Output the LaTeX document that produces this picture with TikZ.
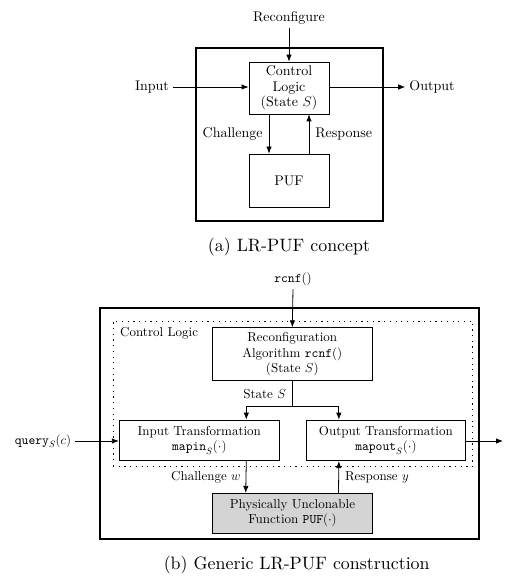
\documentclass[tikz,border=0pt]{standalone}
\usepackage{fix-cm}
\usepackage{fontspec}
% one design size for every scale, as in a scaled-up 10pt figure
\setmainfont{lmroman10-regular.otf}[ItalicFont=lmroman10-italic.otf, BoldFont=lmroman10-bold.otf]
\setmonofont{lmmono10-regular.otf}
\usetikzlibrary{arrows.meta,calc}
\begin{document}
\begin{tikzpicture}[x=1pt,y=-1pt,
  txa/.style={font=\fontsize{14}{15.5}\selectfont, align=center},
  txb/.style={font=\fontsize{13}{15.5}\selectfont, align=center},
  captext/.style={font=\fontsize{17.9}{20}\selectfont},
  blk/.style 2 args={draw, line width=0.8pt, minimum width=#1pt, minimum height=#2pt, inner sep=0pt},
  frame/.style 2 args={draw, line width=1.6pt, minimum width=#1pt, minimum height=#2pt, inner sep=0pt},
  arr/.style={line width=0.8pt, -{Latex[length=7pt,width=5.5pt]}},
  lbl/.style={inner sep=4pt}]
\useasboundingbox (0,0) rectangle (510,577);

% ---------- (a) concept ----------
\node[frame={187}{173}] (fa) at (289.5,134.5) {};
\node[blk={80}{52}, txa] (ctrl) at (289,88) {Control\\Logic\\(State $S$)};
\node[blk={80}{53}, txa] (puf) at (289,180.5) {PUF};
\node[txa] (reconf) at (289,18) {Reconfigure};
\node[txa, lbl] (input) at (152,87) {Input};
\node[txa, lbl] (output) at (432,87) {Output};
\draw[arr] (reconf.south) -- (ctrl.north);
\draw[arr] (input.east) -- (input.east -| ctrl.west);
\draw[arr] (output.west -| ctrl.east) -- (output.west);
\draw[arr] ([xshift=-20pt]ctrl.south) -- ([xshift=-20pt]puf.north)
  node[midway, left, txa, inner sep=6pt] {Challenge};
\draw[arr] ([xshift=20pt]puf.north) -- ([xshift=20pt]ctrl.south)
  node[midway, right, txa, inner sep=6pt] {Response};
\node[captext] (capa) at (289,247) {(a) LR-PUF concept};

% ---------- (b) generic construction ----------
\node[frame={379}{231}] (fb) at (289.5,423.5) {};
\node[draw, line width=0.8pt, dash pattern=on 1.2pt off 4.5pt,
      minimum width=359.7pt, minimum height=145.7pt, inner sep=0pt] (cl) at (292.85,393.85) {};
\node[txb, anchor=west, inner sep=0pt] (cltxt) at (120,333) {Control Logic};
\node[blk={160}{53}, txb] (rc) at (292.3,354.2)
  {Reconfiguration\\Algorithm \texttt{rcnf}()\\(State $S$)};
\node[blk={160}{40.7}, txb] (inb) at (199.3,440.35)
  {Input Transformation\\$\texttt{mapin}_S(\cdot)$};
\node[blk={159.7}{40.7}, txb] (outb) at (385.85,440.35)
  {Output Transformation\\$\texttt{mapout}_S(\cdot)$};
\node[blk={159.6}{40}, txb, fill=black!17] (pufb) at (292.5,513.3)
  {Physically Unclonable\\Function $\texttt{PUF}(\cdot)$};
\node[txb] (rcnf) at (293,279) {\texttt{rcnf}()};
\node[txb, lbl] (query) at (43,441) {$\texttt{query}_S(c)$};
\coordinate (outend) at (503,441);
\coordinate (split) at (292.3,406.7);
\draw[arr] (rcnf.south) -- (rc.north);
\draw[line width=0.8pt] (rc.south) -- (split)
  node[pos=0.5, left, txb, inner sep=6pt] {State $S$};
\draw[arr] (split) -| ([xshift=47pt]inb.north);
\draw[arr] (split) -| ([xshift=-47pt]outb.north);
\draw[arr] (query.east) -- (query.east -| inb.west);
\draw[arr] (outb.east |- outend) -- (outend);
\draw[arr] ([xshift=47pt]inb.south) -- ([xshift=-46.8pt]pufb.north)
  node[midway, left, txb, inner sep=5pt] {Challenge $w$};
\draw[arr] ([xshift=46pt]pufb.north) -- ([xshift=-47pt]outb.south)
  node[midway, right, txb, inner sep=6pt] {Response $y$};
\node[captext] (capb) at (296.7,565) {(b) Generic LR-PUF construction};
\end{tikzpicture}
\end{document}
